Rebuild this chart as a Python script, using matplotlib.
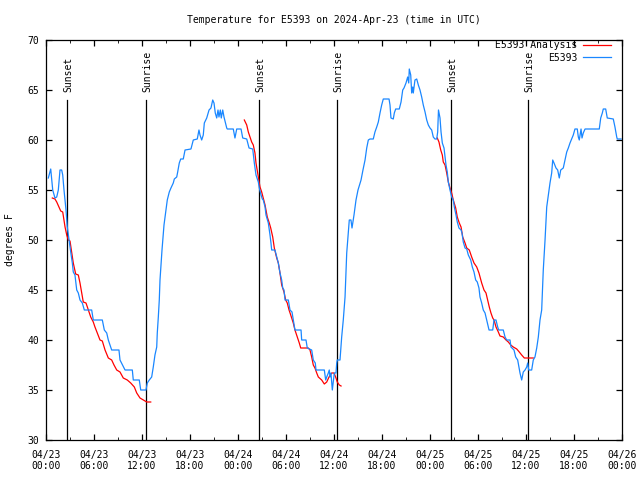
'''
Temperature trace for station E5393 with the analysis curve over each night,
sunset and sunrise marked, gnuplot-like look.
'''
import numpy as np
import matplotlib
matplotlib.use('Agg')
import matplotlib.pyplot as plt

plt.rcParams['font.family'] = ['DejaVu Sans Mono']

# hours after 2024-04-23 00:00 UTC, degrees F
obs_hours = [0.29, 0.59, 0.84, 1.12, 1.34, 1.54, 1.75, 1.96, 2.09, 2.25, 2.5, 2.66, 2.91, 3.09,
             3.29, 3.41, 3.62, 3.84, 4.04, 4.25, 4.54, 4.79, 5.71, 5.91, 7.04, 7.29, 7.59, 7.79,
             8.21, 9.12, 9.25, 9.88, 10.79, 10.91, 11.66, 11.84, 12.5, 12.66, 12.91, 13.21, 13.41,
             13.62, 13.84, 13.91, 14.04, 14.16, 14.25, 14.5, 14.75, 15.0, 15.16, 15.41, 15.62,
             15.91, 16.04, 16.34, 16.46, 16.66, 16.84, 17.16, 17.38, 18.12, 18.41, 18.91, 19.12,
             19.25, 19.46, 19.66, 19.79, 20.09, 20.38, 20.62, 20.84, 21.0, 21.16, 21.34, 21.5,
             21.62, 21.79, 21.91, 22.09, 22.25, 22.41, 22.59, 22.66, 23.41, 23.62, 23.84, 24.38,
             24.59, 25.09, 25.38, 25.84, 26.04, 26.25, 26.54, 26.66, 26.88, 27.04, 27.16, 27.38,
             27.5, 27.79, 28.0, 28.12, 28.21, 28.62, 28.84, 29.04, 29.25, 29.46, 29.59, 29.75,
             29.88, 30.29, 30.5, 30.75, 30.91, 31.12, 31.88, 31.96, 32.5, 32.66, 33.21, 33.41,
             33.66, 33.75, 34.79, 34.96, 35.09, 35.29, 35.41, 35.5, 35.62, 35.79, 35.91, 36.04,
             36.25, 36.34, 36.41, 36.75, 36.84, 36.96, 37.16, 37.38, 37.59, 37.79, 37.91, 38.12,
             38.25, 38.5, 38.75, 39.0, 39.38, 39.62, 39.88, 40.09, 40.29, 40.5, 40.91, 41.12,
             41.34, 41.54, 41.75, 41.96, 42.16, 42.88, 43.0, 43.12, 43.41, 43.54, 43.71, 44.16,
             44.38, 44.59, 44.75, 45.0, 45.21, 45.34, 45.41, 45.59, 45.71, 45.84, 45.91, 46.12,
             46.34, 46.54, 46.75, 46.96, 47.16, 47.38, 47.59, 47.79, 48.0, 48.21, 48.41, 48.62,
             48.84, 48.96, 49.06, 49.25, 49.38, 49.54, 49.75, 49.88, 50.0, 50.16, 50.29, 50.5,
             50.71, 50.91, 51.04, 51.25, 51.41, 51.62, 51.88, 52.0, 52.16, 52.38, 52.59, 52.79,
             53.09, 53.29, 53.5, 53.71, 53.91, 54.12, 54.25, 54.46, 54.66, 54.88, 55.09, 55.38,
             55.84, 56.0, 56.25, 56.46, 56.59, 57.16, 57.38, 57.59, 58.0, 58.12, 58.5, 58.71,
             58.96, 59.12, 59.25, 59.46, 59.66, 59.88, 60.09, 60.21, 60.34, 60.71, 60.91, 61.12,
             61.34, 61.54, 61.75, 61.96, 62.16, 62.38, 62.59, 62.79, 63.0, 63.21, 63.34, 63.5,
             63.75, 63.96, 64.16, 64.34, 64.66, 64.88, 65.09, 65.29, 65.5, 65.71, 65.91, 66.12,
             66.41, 66.54, 66.66, 66.88, 67.0, 67.16, 67.38, 69.16, 69.34, 69.54, 69.66, 69.96,
             70.16, 70.91, 71.12, 71.34, 71.41, 71.88]
obs_temps = [56.2, 57.1, 55.0, 54.2, 54.3, 55.0, 57.0, 57.0, 56.5, 55.0, 53.0, 51.3, 49.8, 48.8,
             47.7, 46.8, 46.5, 45.0, 44.7, 44.0, 43.7, 43.0, 43.0, 42.0, 42.0, 41.0, 40.7, 40.0,
             39.0, 39.0, 38.0, 37.0, 37.0, 36.0, 36.0, 35.0, 35.0, 35.7, 36.0, 36.3, 37.3,
             38.5, 39.3, 40.7, 42.3, 44.0, 46.0, 49.0, 51.5, 53.0, 54.0, 54.8, 55.2,
             55.7, 56.1, 56.3, 56.8, 57.7, 58.1, 58.1, 59.0, 59.1, 60.0, 60.1, 61.0,
             60.5, 60.0, 60.5, 61.7, 62.2, 63.0, 63.2, 64.0, 63.7, 62.7, 62.2, 63.0,
             62.3, 63.0, 62.2, 63.0, 62.3, 61.8, 61.2, 61.1, 61.1, 60.2, 61.1, 61.1,
             60.2, 60.1, 59.2, 59.1, 57.7, 56.5, 55.8, 55.2, 54.5, 54.1, 54.0, 53.3,
             52.5, 51.7, 50.5, 49.7, 49.0, 49.0, 48.3, 47.7, 46.7, 46.0, 45.2, 45.0,
             44.0, 44.0, 43.0, 42.8, 42.0, 41.0, 41.0, 40.0, 40.0, 39.2, 39.0, 38.0,
             37.7, 37.0, 37.0, 36.0, 36.3, 36.7, 37.0, 36.3, 36.7, 35.0, 35.8, 36.7,
             36.7, 37.7, 38.0, 38.0, 39.0, 40.3, 42.0, 44.3, 48.7, 50.7, 52.0, 52.0,
             51.2, 52.5, 54.0, 55.0, 56.0, 57.0, 58.0, 59.2, 60.0, 60.1, 60.1, 60.8,
             61.3, 61.8, 62.7, 63.5, 64.1, 64.1, 63.5, 62.2, 62.1, 62.7, 63.1, 63.1,
             63.8, 65.0, 65.2, 65.7, 66.3, 65.7, 67.1, 66.5, 64.7, 65.3, 64.7, 66.0,
             66.1, 65.5, 65.0, 64.3, 63.5, 62.8, 62.0, 61.5, 61.2, 61.0, 60.3, 60.1,
             60.1, 60.8, 63.0, 62.2, 60.8, 59.7, 59.2, 58.3, 57.5, 56.8, 55.8, 55.0,
             54.3, 54.0, 53.3, 52.5, 51.8, 51.2, 51.0, 50.7, 49.8, 49.2, 49.1, 48.5,
             48.0, 47.3, 46.8, 46.0, 45.8, 45.2, 44.3, 43.7, 43.0, 42.7, 42.0, 41.0,
             41.0, 42.0, 42.0, 41.3, 41.0, 41.0, 40.3, 40.0, 40.0, 39.3, 39.0, 38.3,
             38.0, 37.3, 36.7, 36.0, 36.8, 37.0, 37.3, 37.7, 37.0, 37.0, 38.0, 38.3,
             39.2, 40.3, 42.0, 43.0, 47.0, 50.0, 53.3, 54.5, 55.7, 56.7, 58.0, 57.7,
             57.2, 57.0, 56.2, 57.0, 57.2, 58.0, 58.8, 59.2, 59.7, 60.1, 60.5, 61.1,
             61.1, 60.3, 60.0, 61.1, 60.2, 60.7, 61.1, 61.1, 62.2, 62.7, 63.1, 63.1,
             62.2, 62.1, 61.3, 60.3, 60.1, 60.1]

# analysis curve, one piece per night
night1_hours = [0.79, 1.12, 1.34, 1.62, 1.84, 2.09, 2.25, 2.38, 2.59, 2.79, 3.0, 3.21, 3.41, 3.71,
                4.04, 4.25, 4.46, 4.66, 5.0, 5.29, 5.59, 5.91, 6.12, 6.41, 6.75, 7.04, 7.38, 7.79,
                8.21, 8.5, 8.84, 9.25, 9.66, 10.16, 10.59, 11.04, 11.34, 11.75, 12.16, 12.59, 13.09]
night1_temps = [54.2, 54.1, 53.8, 53.3, 52.9, 52.8, 52.0, 51.3, 50.5, 50.0, 49.9, 48.8, 47.7, 46.6,
                46.5, 45.7, 44.7, 43.8, 43.7, 43.0, 42.3, 41.8, 41.3, 40.7, 40.0, 39.9, 39.0, 38.2,
                38.0, 37.5, 37.0, 36.8, 36.2, 36.0, 35.7, 35.3, 34.7, 34.2, 34.0, 33.8, 33.8]
night2_hours = [24.79, 25.09, 25.29, 25.5, 25.71, 25.91, 26.12, 26.25, 26.54, 26.75, 26.96, 27.16,
                27.38, 27.66, 27.91, 28.09, 28.34, 28.54, 28.84, 29.04, 29.25, 29.46, 29.75, 29.96,
                30.16, 30.38, 30.59, 30.91, 31.12, 31.41, 31.66, 31.84, 32.79, 33.0, 33.21, 33.41,
                33.62, 33.84, 34.04, 34.46, 34.79, 35.09, 35.38, 35.71, 36.0, 36.25, 36.41, 36.66,
                36.88]
night2_temps = [62.0, 61.5, 60.8, 60.3, 59.8, 59.5, 58.7, 57.7, 56.3, 55.3, 54.8, 54.2,
                53.5, 52.3, 51.7, 51.2, 50.3, 49.2, 48.2, 47.7, 46.7, 45.5, 44.8, 44.0,
                43.7, 43.0, 42.5, 41.7, 41.0, 40.3, 39.7, 39.2, 39.2, 39.0, 38.3, 37.5,
                37.2, 36.7, 36.3, 36.0, 35.6, 35.8, 36.3, 36.7, 36.7, 36.2, 35.8, 35.5,
                35.4]
night3_hours = [48.91, 49.12, 49.34, 49.54, 49.66, 49.88, 50.09, 50.29, 50.5, 50.71, 50.91, 51.21,
                51.41, 51.66, 51.88, 52.09, 52.38, 52.59, 52.91, 53.21, 53.5, 53.84, 54.12, 54.46,
                54.75, 55.0, 55.21, 55.41, 55.62, 55.84, 56.0, 56.25, 56.54, 56.75, 57.16, 57.5,
                57.79, 58.09, 58.41, 58.84, 59.16, 59.46, 59.79, 60.91]
night3_temps = [60.2, 59.8, 59.0, 58.5, 57.8, 57.5, 56.7, 55.8, 55.2, 54.7, 54.0, 53.2,
                52.3, 51.7, 51.3, 50.3, 49.7, 49.2, 49.0, 48.3, 47.7, 47.3, 46.7, 45.7,
                45.0, 44.7, 44.0, 43.3, 42.7, 42.2, 42.0, 41.3, 40.8, 40.4, 40.3, 40.0,
                39.8, 39.5, 39.3, 39.1, 38.8, 38.5, 38.2, 38.2]

sun_hours = [2.66, 12.54, 26.66, 36.41, 50.66, 60.29]
sun_labels = ['Sunset', 'Sunrise', 'Sunset', 'Sunrise', 'Sunset', 'Sunrise']

tick_hours = list(range(0, 73, 6))
tick_labels = ['04/23\n00:00', '04/23\n06:00', '04/23\n12:00', '04/23\n18:00',
               '04/24\n00:00', '04/24\n06:00', '04/24\n12:00', '04/24\n18:00',
               '04/25\n00:00', '04/25\n06:00', '04/25\n12:00', '04/25\n18:00',
               '04/26\n00:00']

# join the nights with gaps so they draw as one legend entry
ana_hours = night1_hours + [np.nan] + night2_hours + [np.nan] + night3_hours
ana_temps = night1_temps + [np.nan] + night2_temps + [np.nan] + night3_temps

fig = plt.figure(figsize=(6.4, 4.8), dpi=100)
ax = fig.add_axes([46/640, 40/480, 576/640, 400/480])

for h, lab in zip(sun_hours, sun_labels):
    ax.plot([h, h], [30, 64], c='black', lw=0.9)
    ax.text(h + 0.1, 64.8, lab, rotation=90, ha='center', va='bottom', fontsize=7)

ax.plot(ana_hours, ana_temps, c='#ff0000', lw=0.9, label='E5393 Analysis')
ax.plot(obs_hours, obs_temps, c='#1a87ff', lw=0.9, label='E5393')

ax.set_xlim(0, 72)
ax.set_ylim(30, 70)
ax.set_xticks(tick_hours)
ax.set_xticklabels(tick_labels)
ax.set_xticks(range(3, 72, 6), minor=True)
ax.set_yticks(range(30, 71, 5))
ax.tick_params(direction='in', top=True, right=True, labelsize=7, length=4, width=0.9)
ax.tick_params(which='minor', direction='in', top=True, right=True, length=2)
ax.tick_params(axis='x', pad=7)
ax.tick_params(axis='y', pad=5)
for s in ax.spines.values():
    s.set_linewidth(0.9)

ax.legend(loc='upper right', bbox_to_anchor=(0.985, 1.005), frameon=False, fontsize=7,
          markerfirst=False, handlelength=2.9, handletextpad=0.6, labelspacing=0.3,
          borderaxespad=0, borderpad=0.2)

fig.text(334/640, 1 - 20/480, 'Temperature for E5393 on 2024-Apr-23 (time in UTC)',
         ha='center', va='center', fontsize=7)
fig.text(10/640, 0.5, 'degrees F', rotation=90, ha='center', va='center', fontsize=7)

fig.savefig('out.png', dpi=100)
